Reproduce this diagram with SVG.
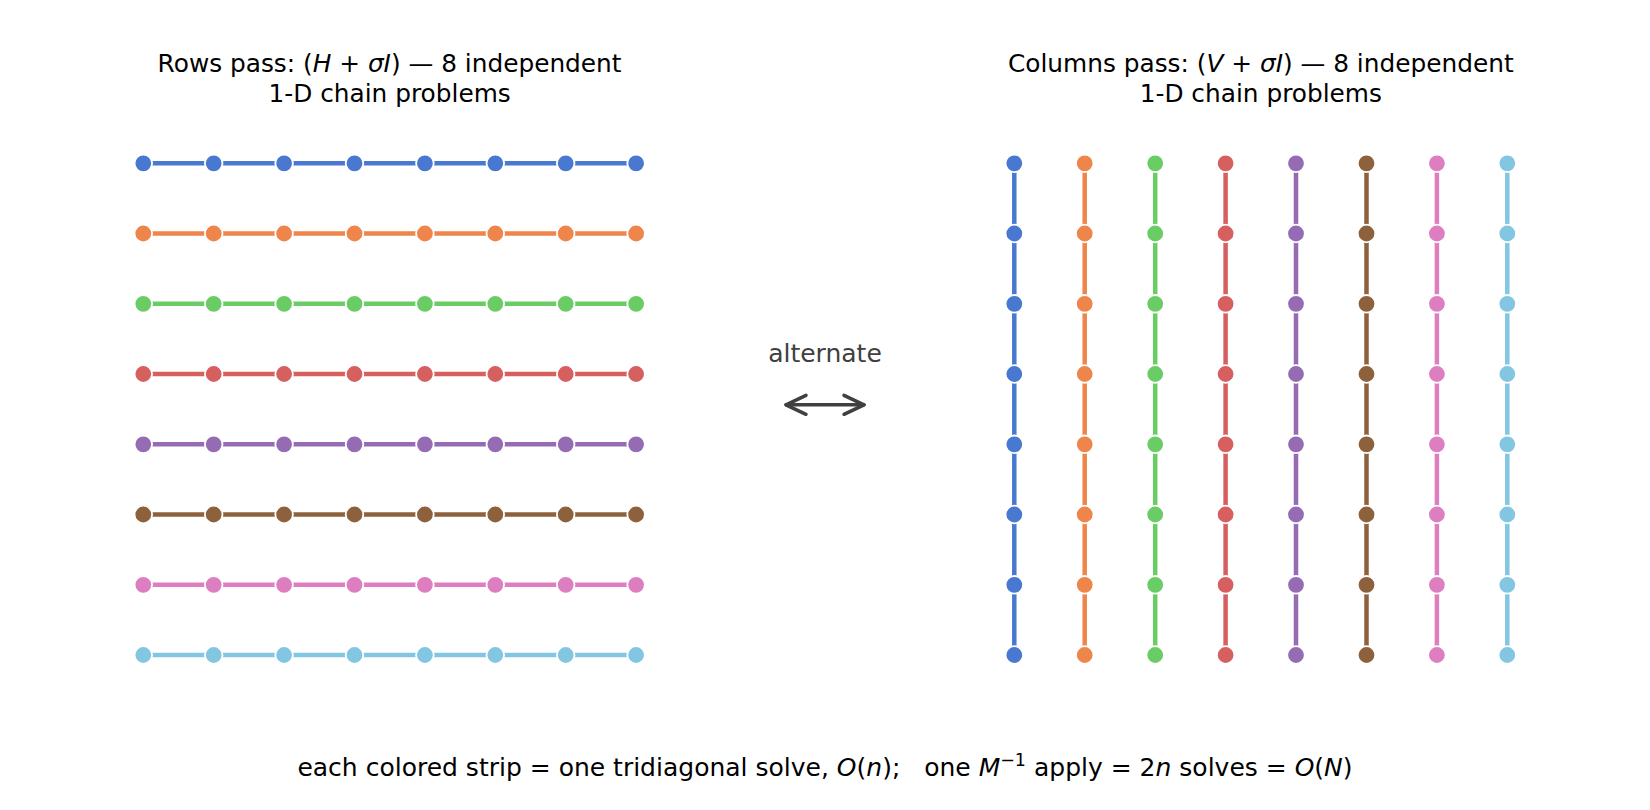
<svg xmlns="http://www.w3.org/2000/svg" width="1650" height="810" viewBox="0 0 1650 810">
<style>
text{font-family:"DejaVu Sans","Liberation Sans",sans-serif;font-size:25px;fill:#000}
.t{font-size:24.8px}
.i{font-style:italic}
.n{stroke:#fff;stroke-width:1.8}
.s{stroke-width:4.5;fill:none}
.c0{fill:#4878d0}.c1{fill:#ee854a}.c2{fill:#6acc64}.c3{fill:#d65f5f}.c4{fill:#956cb4}.c5{fill:#8c613c}.c6{fill:#dc7ec0}.c7{fill:#82c6e2}
.l0{stroke:#4878d0}.l1{stroke:#ee854a}.l2{stroke:#6acc64}.l3{stroke:#d65f5f}.l4{stroke:#956cb4}.l5{stroke:#8c613c}.l6{stroke:#dc7ec0}.l7{stroke:#82c6e2}
</style>
<rect width="1650" height="810" fill="#fff"/>
<g id="titles">
<text class="t" x="389.6" y="71.7" text-anchor="middle" xml:space="preserve">Rows pass: (<tspan class="i">H</tspan> + <tspan class="i">σI</tspan>) — 8 independent</text>
<text class="t" x="389.6" y="101.5" text-anchor="middle">1-D chain problems</text>
<text class="t" x="1260.8" y="71.7" text-anchor="middle" xml:space="preserve">Columns pass: (<tspan class="i">V</tspan> + <tspan class="i">σI</tspan>) — 8 independent</text>
<text class="t" x="1260.8" y="101.5" text-anchor="middle">1-D chain problems</text>
</g>
<g id="connectors">
<line class="s l0" x1="143.3" y1="163.3" x2="636.1" y2="163.3"/>
<line class="s l1" x1="143.3" y1="233.5" x2="636.1" y2="233.5"/>
<line class="s l2" x1="143.3" y1="303.8" x2="636.1" y2="303.8"/>
<line class="s l3" x1="143.3" y1="374" x2="636.1" y2="374"/>
<line class="s l4" x1="143.3" y1="444.3" x2="636.1" y2="444.3"/>
<line class="s l5" x1="143.3" y1="514.5" x2="636.1" y2="514.5"/>
<line class="s l6" x1="143.3" y1="584.8" x2="636.1" y2="584.8"/>
<line class="s l7" x1="143.3" y1="655" x2="636.1" y2="655"/>
<line class="s l0" x1="1014.3" y1="163.3" x2="1014.3" y2="655"/>
<line class="s l1" x1="1084.7" y1="163.3" x2="1084.7" y2="655"/>
<line class="s l2" x1="1155.2" y1="163.3" x2="1155.2" y2="655"/>
<line class="s l3" x1="1225.6" y1="163.3" x2="1225.6" y2="655"/>
<line class="s l4" x1="1296" y1="163.3" x2="1296" y2="655"/>
<line class="s l5" x1="1366.5" y1="163.3" x2="1366.5" y2="655"/>
<line class="s l6" x1="1436.9" y1="163.3" x2="1436.9" y2="655"/>
<line class="s l7" x1="1507.3" y1="163.3" x2="1507.3" y2="655"/>
<g id="alternate-arrow" stroke="#404040" stroke-width="3.5" fill="none" stroke-linecap="round" stroke-linejoin="round">
<line x1="786" y1="404.8" x2="864" y2="404.8"/>
<polyline points="806,395.3 786,404.8 806,414.3"/>
<polyline points="844,395.3 864,404.8 844,414.3"/>
</g>
</g>
<g id="rows">
<g id="R0" class="c0"><circle class="n" cx="143.3" cy="163.3" r="8.8"/><circle class="n" cx="213.7" cy="163.3" r="8.8"/><circle class="n" cx="284.1" cy="163.3" r="8.8"/><circle class="n" cx="354.5" cy="163.3" r="8.8"/><circle class="n" cx="424.9" cy="163.3" r="8.8"/><circle class="n" cx="495.3" cy="163.3" r="8.8"/><circle class="n" cx="565.7" cy="163.3" r="8.8"/><circle class="n" cx="636.1" cy="163.3" r="8.8"/></g>
<g id="R1" class="c1"><circle class="n" cx="143.3" cy="233.5" r="8.8"/><circle class="n" cx="213.7" cy="233.5" r="8.8"/><circle class="n" cx="284.1" cy="233.5" r="8.8"/><circle class="n" cx="354.5" cy="233.5" r="8.8"/><circle class="n" cx="424.9" cy="233.5" r="8.8"/><circle class="n" cx="495.3" cy="233.5" r="8.8"/><circle class="n" cx="565.7" cy="233.5" r="8.8"/><circle class="n" cx="636.1" cy="233.5" r="8.8"/></g>
<g id="R2" class="c2"><circle class="n" cx="143.3" cy="303.8" r="8.8"/><circle class="n" cx="213.7" cy="303.8" r="8.8"/><circle class="n" cx="284.1" cy="303.8" r="8.8"/><circle class="n" cx="354.5" cy="303.8" r="8.8"/><circle class="n" cx="424.9" cy="303.8" r="8.8"/><circle class="n" cx="495.3" cy="303.8" r="8.8"/><circle class="n" cx="565.7" cy="303.8" r="8.8"/><circle class="n" cx="636.1" cy="303.8" r="8.8"/></g>
<g id="R3" class="c3"><circle class="n" cx="143.3" cy="374" r="8.8"/><circle class="n" cx="213.7" cy="374" r="8.8"/><circle class="n" cx="284.1" cy="374" r="8.8"/><circle class="n" cx="354.5" cy="374" r="8.8"/><circle class="n" cx="424.9" cy="374" r="8.8"/><circle class="n" cx="495.3" cy="374" r="8.8"/><circle class="n" cx="565.7" cy="374" r="8.8"/><circle class="n" cx="636.1" cy="374" r="8.8"/></g>
<g id="R4" class="c4"><circle class="n" cx="143.3" cy="444.3" r="8.8"/><circle class="n" cx="213.7" cy="444.3" r="8.8"/><circle class="n" cx="284.1" cy="444.3" r="8.8"/><circle class="n" cx="354.5" cy="444.3" r="8.8"/><circle class="n" cx="424.9" cy="444.3" r="8.8"/><circle class="n" cx="495.3" cy="444.3" r="8.8"/><circle class="n" cx="565.7" cy="444.3" r="8.8"/><circle class="n" cx="636.1" cy="444.3" r="8.8"/></g>
<g id="R5" class="c5"><circle class="n" cx="143.3" cy="514.5" r="8.8"/><circle class="n" cx="213.7" cy="514.5" r="8.8"/><circle class="n" cx="284.1" cy="514.5" r="8.8"/><circle class="n" cx="354.5" cy="514.5" r="8.8"/><circle class="n" cx="424.9" cy="514.5" r="8.8"/><circle class="n" cx="495.3" cy="514.5" r="8.8"/><circle class="n" cx="565.7" cy="514.5" r="8.8"/><circle class="n" cx="636.1" cy="514.5" r="8.8"/></g>
<g id="R6" class="c6"><circle class="n" cx="143.3" cy="584.8" r="8.8"/><circle class="n" cx="213.7" cy="584.8" r="8.8"/><circle class="n" cx="284.1" cy="584.8" r="8.8"/><circle class="n" cx="354.5" cy="584.8" r="8.8"/><circle class="n" cx="424.9" cy="584.8" r="8.8"/><circle class="n" cx="495.3" cy="584.8" r="8.8"/><circle class="n" cx="565.7" cy="584.8" r="8.8"/><circle class="n" cx="636.1" cy="584.8" r="8.8"/></g>
<g id="R7" class="c7"><circle class="n" cx="143.3" cy="655" r="8.8"/><circle class="n" cx="213.7" cy="655" r="8.8"/><circle class="n" cx="284.1" cy="655" r="8.8"/><circle class="n" cx="354.5" cy="655" r="8.8"/><circle class="n" cx="424.9" cy="655" r="8.8"/><circle class="n" cx="495.3" cy="655" r="8.8"/><circle class="n" cx="565.7" cy="655" r="8.8"/><circle class="n" cx="636.1" cy="655" r="8.8"/></g>
</g>
<g id="columns">
<g id="C0" class="c0"><circle class="n" cx="1014.3" cy="163.3" r="8.8"/><circle class="n" cx="1014.3" cy="233.5" r="8.8"/><circle class="n" cx="1014.3" cy="303.8" r="8.8"/><circle class="n" cx="1014.3" cy="374" r="8.8"/><circle class="n" cx="1014.3" cy="444.3" r="8.8"/><circle class="n" cx="1014.3" cy="514.5" r="8.8"/><circle class="n" cx="1014.3" cy="584.8" r="8.8"/><circle class="n" cx="1014.3" cy="655" r="8.8"/></g>
<g id="C1" class="c1"><circle class="n" cx="1084.7" cy="163.3" r="8.8"/><circle class="n" cx="1084.7" cy="233.5" r="8.8"/><circle class="n" cx="1084.7" cy="303.8" r="8.8"/><circle class="n" cx="1084.7" cy="374" r="8.8"/><circle class="n" cx="1084.7" cy="444.3" r="8.8"/><circle class="n" cx="1084.7" cy="514.5" r="8.8"/><circle class="n" cx="1084.7" cy="584.8" r="8.8"/><circle class="n" cx="1084.7" cy="655" r="8.8"/></g>
<g id="C2" class="c2"><circle class="n" cx="1155.2" cy="163.3" r="8.8"/><circle class="n" cx="1155.2" cy="233.5" r="8.8"/><circle class="n" cx="1155.2" cy="303.8" r="8.8"/><circle class="n" cx="1155.2" cy="374" r="8.8"/><circle class="n" cx="1155.2" cy="444.3" r="8.8"/><circle class="n" cx="1155.2" cy="514.5" r="8.8"/><circle class="n" cx="1155.2" cy="584.8" r="8.8"/><circle class="n" cx="1155.2" cy="655" r="8.8"/></g>
<g id="C3" class="c3"><circle class="n" cx="1225.6" cy="163.3" r="8.8"/><circle class="n" cx="1225.6" cy="233.5" r="8.8"/><circle class="n" cx="1225.6" cy="303.8" r="8.8"/><circle class="n" cx="1225.6" cy="374" r="8.8"/><circle class="n" cx="1225.6" cy="444.3" r="8.8"/><circle class="n" cx="1225.6" cy="514.5" r="8.8"/><circle class="n" cx="1225.6" cy="584.8" r="8.8"/><circle class="n" cx="1225.6" cy="655" r="8.8"/></g>
<g id="C4" class="c4"><circle class="n" cx="1296" cy="163.3" r="8.8"/><circle class="n" cx="1296" cy="233.5" r="8.8"/><circle class="n" cx="1296" cy="303.8" r="8.8"/><circle class="n" cx="1296" cy="374" r="8.8"/><circle class="n" cx="1296" cy="444.3" r="8.8"/><circle class="n" cx="1296" cy="514.5" r="8.8"/><circle class="n" cx="1296" cy="584.8" r="8.8"/><circle class="n" cx="1296" cy="655" r="8.8"/></g>
<g id="C5" class="c5"><circle class="n" cx="1366.5" cy="163.3" r="8.8"/><circle class="n" cx="1366.5" cy="233.5" r="8.8"/><circle class="n" cx="1366.5" cy="303.8" r="8.8"/><circle class="n" cx="1366.5" cy="374" r="8.8"/><circle class="n" cx="1366.5" cy="444.3" r="8.8"/><circle class="n" cx="1366.5" cy="514.5" r="8.8"/><circle class="n" cx="1366.5" cy="584.8" r="8.8"/><circle class="n" cx="1366.5" cy="655" r="8.8"/></g>
<g id="C6" class="c6"><circle class="n" cx="1436.9" cy="163.3" r="8.8"/><circle class="n" cx="1436.9" cy="233.5" r="8.8"/><circle class="n" cx="1436.9" cy="303.8" r="8.8"/><circle class="n" cx="1436.9" cy="374" r="8.8"/><circle class="n" cx="1436.9" cy="444.3" r="8.8"/><circle class="n" cx="1436.9" cy="514.5" r="8.8"/><circle class="n" cx="1436.9" cy="584.8" r="8.8"/><circle class="n" cx="1436.9" cy="655" r="8.8"/></g>
<g id="C7" class="c7"><circle class="n" cx="1507.3" cy="163.3" r="8.8"/><circle class="n" cx="1507.3" cy="233.5" r="8.8"/><circle class="n" cx="1507.3" cy="303.8" r="8.8"/><circle class="n" cx="1507.3" cy="374" r="8.8"/><circle class="n" cx="1507.3" cy="444.3" r="8.8"/><circle class="n" cx="1507.3" cy="514.5" r="8.8"/><circle class="n" cx="1507.3" cy="584.8" r="8.8"/><circle class="n" cx="1507.3" cy="655" r="8.8"/></g>
</g>
<g id="alternate-label">
<text x="825" y="362.3" text-anchor="middle" style="fill:#404040">alternate</text>
</g>
<g id="caption">
<text x="825" y="776" text-anchor="middle" xml:space="preserve">each colored strip = one tridiagonal solve, <tspan class="i">O</tspan>(<tspan class="i">n</tspan>);   one <tspan class="i">M</tspan><tspan font-size="17.5" dy="-10.5">−1</tspan><tspan dy="10.5"> apply = 2</tspan><tspan class="i">n</tspan> solves = <tspan class="i">O</tspan>(<tspan class="i">N</tspan>)</text>
</g>
</svg>
